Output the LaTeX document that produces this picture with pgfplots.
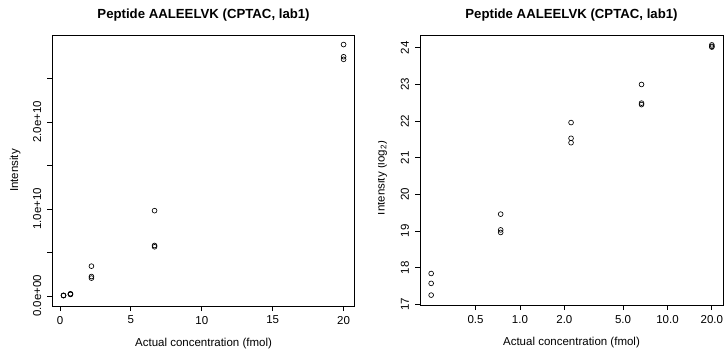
\documentclass[border=0pt]{standalone}
\usepackage{fontspec}
\setmainfont{Liberation Sans}
\usepackage{pgfplots}
\pgfplotsset{compat=1.18}
\pgfplotsset{
  every axis title/.style={at={(0.5,1)}, anchor=center, yshift=20pt},
  rstyle/.style={
    scale only axis,
    axis line style={line width=0.8pt},
    tick style={line width=0.8pt, black},
    tick align=outside,
    major tick length=5pt,
    xtick pos=bottom, ytick pos=left,
    minor tick num=0,
    /pgf/number format/assume math mode=true,
    tick label style={font=\fontsize{11.5}{14}\selectfont},
    yticklabel style={rotate=90, anchor=south},
    yticklabel shift=2.5pt,
    xticklabel shift=1.5pt,
    title style={font=\bfseries\fontsize{13.2}{15}\selectfont},
    xlabel style={font=\fontsize{11.5}{14}\selectfont, at={(axis description cs:0.5,0)}, anchor=center, yshift=-37.5pt},
    ylabel style={font=\fontsize{11.5}{14}\selectfont},
    scaled ticks=false,
  },
  rmarks/.style={only marks, mark=o, mark size=2.4pt, black, mark options={line width=0.65pt}},
}
\begin{document}
\begin{tikzpicture}[x=1pt,y=1pt]
\useasboundingbox (0,0) rectangle (725,348);
\begin{axis}[rstyle,
  at={(52.3pt,42pt)}, anchor=south west,
  width=302.5pt, height=271pt,
  xmin=-0.54, xmax=20.79,
  ymin=-0.116e10, ymax=3.0e10,
  xtick={0,5,10,15,20},
  xticklabels={0,5,10,15,20},
  ytick={0,0.5e10,1e10,1.5e10,2e10,2.5e10},
  yticklabels={0.0e+00,,1.0e+10,,2.0e+10,},
  title={Peptide AALEELVK (CPTAC, lab1)},
  xlabel={Actual concentration (fmol)},
  ylabel={Intensity},
  ylabel style={at={(axis description cs:-0.1225,0.5)}, rotate=0, anchor=center},
]
\addplot[rmarks] coordinates {
(0.25,0.007e10) (0.25,0.005e10) (0.25,0.003e10)
(0.74,0.025e10) (0.74,0.020e10) (0.74,0.017e10)
(2.22,0.342e10) (2.22,0.223e10) (2.22,0.205e10)
(6.67,0.980e10) (6.67,0.580e10) (6.67,0.565e10)
(20,2.890e10) (20,2.750e10) (20,2.720e10)
};
\end{axis}
\begin{axis}[rstyle,
  at={(420pt,43pt)}, anchor=south west,
  width=303pt, height=270pt,
  xmode=log, log basis x=10,
  xmin=0.21, xmax=23.8,
  ymin=16.98, ymax=24.35,
  xtick={0.5,1,2,5,10,20},
  xticklabels={0.5,1.0,2.0,5.0,10.0,20.0},
  ytick={17,18,19,20,21,22,23,24},
  yticklabels={17,18,19,20,21,22,23,24},
  title={Peptide AALEELVK (CPTAC, lab1)},
  xlabel={Actual concentration (fmol)},
]
\addplot[rmarks] coordinates {
(0.25,17.84) (0.25,17.57) (0.25,17.25)
(0.74,19.46) (0.74,19.03) (0.74,18.96)
(2.22,21.96) (2.22,21.53) (2.22,21.41)
(6.67,23.00) (6.67,22.49) (6.67,22.45)
(20,24.08) (20,24.04) (20,24.02)
};
\end{axis}
\begin{scope}
\clip (378.3,0) rectangle (420,348);
\node[rotate=90, anchor=base, font=\fontsize{11.5}{14}\selectfont, inner sep=0pt] at (384.5,170) {Intensity (log\textsubscript{2})};
\end{scope}
\end{tikzpicture}
\end{document}
